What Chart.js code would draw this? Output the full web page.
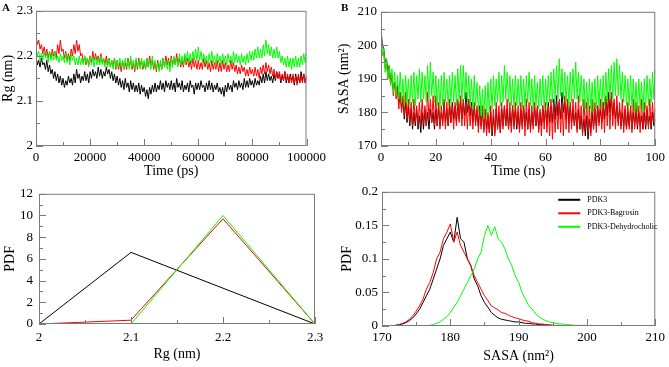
<!DOCTYPE html>
<html>
<head>
<meta charset="utf-8">
<script src="https://cdn.jsdelivr.net/npm/chart.js@4.4.0/dist/chart.umd.min.js"></script>
<style>
  body { margin: 0; background: #fff; }
  #wrap { position: relative; width: 669px; height: 367px; overflow: hidden; font-family: "Liberation Serif", serif; }
  canvas { position: absolute; }
  .tag { position: absolute; font-weight: bold; font-size: 11px; line-height: 11px; }
</style>
</head>
<body>
<div id="wrap">
  <canvas id="rgTime" width="330" height="180" style="left:0;top:0"></canvas>
  <canvas id="sasaTime" width="339" height="180" style="left:330px;top:0"></canvas>
  <canvas id="rgPdf" width="330" height="187" style="left:0;top:180px"></canvas>
  <canvas id="sasaPdf" width="339" height="187" style="left:330px;top:180px"></canvas>
  <div class="tag" style="left:2px;top:2px">A</div>
  <div class="tag" style="left:341px;top:2px">B</div>
</div>
<script>
const seriesNames = ["PDK3", "PDK3-Bagrosin", "PDK3-Dehydrocholic"];
const seriesColors = ["#000000", "#ff0000", "#00ff00"];

// Rg vs time, one value every 500 ps
const RG_STEP = 500;
const rgBlack = [
  2.2, 2.18, 2.19, 2.175, 2.195, 2.18, 2.185, 2.17, 2.19, 2.165, 2.18, 2.16, 2.17, 2.15, 2.165, 2.145, 2.16, 2.14, 2.155, 2.135,
  2.15, 2.13, 2.145, 2.135, 2.155, 2.14, 2.15, 2.135, 2.16, 2.14, 2.17, 2.15, 2.16, 2.14, 2.155, 2.145, 2.165, 2.145, 2.16, 2.14,
  2.165, 2.15, 2.17, 2.155, 2.165, 2.15, 2.175, 2.155, 2.17, 2.15, 2.165, 2.155, 2.175, 2.16, 2.17, 2.15, 2.165, 2.145, 2.16, 2.14,
  2.155, 2.135, 2.15, 2.13, 2.145, 2.125, 2.15, 2.13, 2.14, 2.12, 2.145, 2.125, 2.14, 2.12, 2.135, 2.12, 2.14, 2.115, 2.135, 2.12,
  2.13, 2.11, 2.125, 2.105, 2.13, 2.115, 2.135, 2.12, 2.14, 2.12, 2.135, 2.125, 2.145, 2.125, 2.14, 2.12, 2.145, 2.13, 2.14, 2.125,
  2.145, 2.125, 2.14, 2.12, 2.15, 2.13, 2.14, 2.125, 2.145, 2.12, 2.135, 2.125, 2.14, 2.12, 2.145, 2.13, 2.135, 2.115, 2.14, 2.125,
  2.14, 2.125, 2.145, 2.13, 2.135, 2.12, 2.14, 2.125, 2.145, 2.125, 2.14, 2.12, 2.135, 2.125, 2.14, 2.12, 2.13, 2.115, 2.13, 2.11,
  2.135, 2.12, 2.14, 2.125, 2.135, 2.12, 2.145, 2.13, 2.14, 2.125, 2.145, 2.13, 2.14, 2.125, 2.15, 2.13, 2.145, 2.13, 2.15, 2.135,
  2.145, 2.13, 2.15, 2.135, 2.145, 2.135, 2.155, 2.14, 2.16, 2.14, 2.165, 2.145, 2.16, 2.145, 2.155, 2.14, 2.16, 2.145, 2.165, 2.15,
  2.16, 2.14, 2.155, 2.145, 2.165, 2.14, 2.155, 2.14, 2.16, 2.145, 2.155, 2.135, 2.16, 2.14, 2.155, 2.14, 2.165, 2.145, 2.16, 2.14,
  2.155
];
const rgRed = [
  2.245, 2.225, 2.235, 2.215, 2.225, 2.205, 2.22, 2.2, 2.215, 2.195, 2.21, 2.195, 2.215, 2.2, 2.21, 2.195, 2.225, 2.205, 2.235, 2.21,
  2.215, 2.195, 2.21, 2.19, 2.205, 2.19, 2.215, 2.2, 2.225, 2.205, 2.235, 2.21, 2.225, 2.2, 2.205, 2.185, 2.2, 2.18, 2.195, 2.18,
  2.2, 2.185, 2.21, 2.19, 2.205, 2.19, 2.2, 2.185, 2.205, 2.185, 2.195, 2.18, 2.2, 2.18, 2.195, 2.175, 2.19, 2.175, 2.195, 2.17,
  2.19, 2.17, 2.185, 2.165, 2.19, 2.17, 2.185, 2.17, 2.195, 2.175, 2.19, 2.17, 2.185, 2.165, 2.19, 2.17, 2.195, 2.175, 2.19, 2.17,
  2.185, 2.17, 2.195, 2.175, 2.2, 2.18, 2.19, 2.17, 2.185, 2.165, 2.19, 2.17, 2.185, 2.17, 2.195, 2.175, 2.2, 2.18, 2.195, 2.175,
  2.2, 2.18, 2.195, 2.18, 2.205, 2.18, 2.195, 2.175, 2.19, 2.175, 2.2, 2.18, 2.195, 2.175, 2.19, 2.17, 2.195, 2.175, 2.19, 2.17,
  2.19, 2.17, 2.185, 2.17, 2.195, 2.175, 2.19, 2.17, 2.185, 2.165, 2.19, 2.17, 2.185, 2.17, 2.19, 2.165, 2.185, 2.165, 2.19, 2.17,
  2.185, 2.165, 2.18, 2.165, 2.19, 2.17, 2.185, 2.165, 2.18, 2.16, 2.175, 2.16, 2.18, 2.165, 2.175, 2.155, 2.17, 2.155, 2.175, 2.16,
  2.17, 2.155, 2.175, 2.155, 2.17, 2.15, 2.175, 2.16, 2.18, 2.16, 2.185, 2.165, 2.18, 2.16, 2.175, 2.155, 2.17, 2.15, 2.165, 2.15,
  2.165, 2.145, 2.16, 2.145, 2.165, 2.145, 2.16, 2.14, 2.155, 2.14, 2.16, 2.14, 2.155, 2.135, 2.16, 2.14, 2.155, 2.14, 2.16, 2.14,
  2.15
];
const rgGreen = [
  2.22, 2.2, 2.21, 2.19, 2.205, 2.19, 2.21, 2.195, 2.205, 2.185, 2.21, 2.19, 2.205, 2.19, 2.21, 2.19, 2.2, 2.185, 2.205, 2.19,
  2.2, 2.185, 2.205, 2.185, 2.2, 2.18, 2.205, 2.19, 2.2, 2.18, 2.195, 2.18, 2.2, 2.18, 2.195, 2.18, 2.2, 2.185, 2.195, 2.175,
  2.2, 2.18, 2.195, 2.175, 2.2, 2.18, 2.195, 2.18, 2.2, 2.18, 2.195, 2.175, 2.19, 2.175, 2.195, 2.175, 2.19, 2.17, 2.195, 2.175,
  2.19, 2.175, 2.195, 2.175, 2.19, 2.17, 2.195, 2.175, 2.19, 2.17, 2.2, 2.175, 2.19, 2.17, 2.195, 2.175, 2.19, 2.17, 2.195, 2.175,
  2.19, 2.17, 2.195, 2.175, 2.19, 2.17, 2.2, 2.175, 2.19, 2.17, 2.185, 2.165, 2.19, 2.17, 2.195, 2.175, 2.19, 2.17, 2.19, 2.165,
  2.195, 2.175, 2.2, 2.18, 2.195, 2.175, 2.205, 2.18, 2.2, 2.18, 2.205, 2.185, 2.21, 2.185, 2.205, 2.185, 2.21, 2.19, 2.215, 2.19,
  2.22, 2.19, 2.21, 2.185, 2.205, 2.185, 2.2, 2.18, 2.205, 2.185, 2.21, 2.185, 2.2, 2.18, 2.205, 2.185, 2.2, 2.18, 2.205, 2.185,
  2.2, 2.18, 2.205, 2.185, 2.2, 2.18, 2.21, 2.185, 2.205, 2.185, 2.2, 2.18, 2.205, 2.185, 2.2, 2.18, 2.205, 2.185, 2.21, 2.19,
  2.21, 2.19, 2.215, 2.195, 2.22, 2.195, 2.215, 2.195, 2.225, 2.2, 2.235, 2.205, 2.225, 2.2, 2.22, 2.195, 2.215, 2.195, 2.22, 2.195,
  2.21, 2.185, 2.2, 2.18, 2.195, 2.175, 2.2, 2.175, 2.195, 2.17, 2.195, 2.175, 2.2, 2.175, 2.195, 2.175, 2.2, 2.18, 2.205, 2.185,
  2.205
];

// SASA vs time, one value every 0.5 ns
const SASA_STEP = 0.5;
const sasaBlack = [
  205, 200, 199, 195, 196, 192, 194, 189, 191, 187, 189, 185, 188, 183, 186, 181, 184, 178, 183, 177,
  182, 176, 181, 175, 180, 176, 181, 175, 179, 174, 180, 175, 181, 176, 180, 175, 181, 177, 180, 175,
  181, 176, 182, 176, 180, 177, 183, 177, 181, 176, 182, 177, 183, 178, 182, 177, 183, 178, 184, 178,
  183, 179, 186, 180, 184, 179, 183, 177, 182, 177, 181, 176, 182, 176, 180, 175, 181, 175, 179, 174,
  180, 173, 179, 174, 181, 175, 180, 174, 181, 176, 182, 176, 181, 175, 180, 176, 182, 176, 181, 175,
  180, 175, 181, 176, 182, 176, 180, 175, 181, 175, 180, 176, 182, 176, 181, 175, 180, 176, 182, 177,
  181, 176, 183, 177, 182, 177, 184, 178, 185, 179, 183, 178, 186, 180, 184, 178, 183, 177, 182, 177,
  181, 176, 180, 175, 181, 175, 179, 174, 178, 173, 179, 172, 178, 174, 180, 175, 181, 176, 182, 177,
  181, 177, 183, 178, 184, 179, 186, 180, 185, 179, 183, 178, 182, 177, 181, 176, 180, 176, 181, 175,
  180, 176, 181, 175, 180, 176, 181, 175, 180, 176, 179, 175, 180, 175, 181, 176, 179, 175, 180, 176,
  178
];
const sasaRed = [
  201, 197, 198, 193, 195, 190, 193, 188, 191, 185, 189, 184, 187, 181, 186, 180, 185, 179, 186, 178,
  184, 177, 183, 176, 184, 177, 182, 176, 183, 176, 184, 177, 182, 176, 186, 178, 184, 177, 185, 176,
  185, 176, 183, 175, 182, 176, 184, 175, 183, 176, 184, 177, 182, 175, 183, 176, 184, 177, 185, 176,
  184, 176, 183, 175, 184, 176, 182, 175, 183, 176, 182, 174, 181, 175, 182, 174, 181, 173, 180, 174,
  182, 174, 181, 173, 183, 175, 182, 174, 183, 175, 182, 176, 184, 175, 183, 174, 182, 175, 183, 176,
  182, 174, 183, 175, 182, 173, 184, 175, 183, 174, 182, 175, 183, 176, 182, 174, 181, 173, 182, 175,
  183, 174, 182, 173, 184, 172, 183, 174, 182, 175, 184, 174, 183, 173, 185, 175, 184, 174, 183, 175,
  184, 176, 183, 174, 185, 175, 182, 173, 184, 175, 183, 174, 182, 173, 184, 175, 183, 174, 182, 176,
  184, 175, 183, 174, 185, 176, 184, 175, 186, 176, 184, 175, 185, 176, 183, 175, 184, 174, 182, 175,
  183, 175, 182, 174, 184, 175, 183, 176, 182, 174, 184, 175, 183, 176, 182, 175, 184, 176, 183, 177,
  181
];
const sasaGreen = [
  205, 197, 199, 192, 196, 190, 194, 188, 193, 186, 192, 185, 191, 184, 192, 183, 190, 182, 191, 183,
  190, 182, 191, 183, 192, 182, 191, 184, 193, 183, 192, 184, 191, 183, 194, 184, 195, 185, 192, 183,
  191, 182, 190, 181, 191, 182, 192, 183, 190, 182, 191, 183, 192, 183, 191, 182, 193, 184, 194, 183,
  194, 184, 192, 183, 191, 182, 190, 181, 191, 182, 189, 180, 188, 179, 187, 178, 188, 179, 189, 180,
  190, 181, 191, 182, 190, 183, 192, 182, 191, 183, 194, 184, 192, 183, 191, 182, 190, 181, 191, 182,
  190, 182, 191, 181, 190, 182, 191, 183, 192, 182, 190, 181, 191, 182, 189, 181, 190, 182, 191, 181,
  190, 182, 191, 183, 192, 183, 193, 184, 194, 184, 196, 185, 193, 184, 192, 183, 191, 182, 192, 183,
  193, 184, 195, 184, 192, 183, 191, 182, 190, 181, 189, 180, 190, 181, 189, 180, 190, 181, 191, 182,
  190, 181, 191, 182, 192, 183, 193, 184, 194, 184, 195, 185, 196, 185, 194, 184, 192, 183, 191, 182,
  190, 182, 191, 181, 190, 180, 189, 180, 190, 181, 189, 180, 190, 181, 191, 182, 190, 183, 192, 184,
  193
];

// Rg distribution
const rgBins = [2, 2.1, 2.2, 2.3];
const rgPdfBlack = [0, 6.6, 3.3, 0];
const rgPdfRed = [0, 0.35, 9.7, 0];
const rgPdfGreen = [0, 0, 10.0, 0];

// SASA distribution, bins from 171 to 206 every 0.5 nm2
const SASA_BIN0 = 171;
const SASA_BIN_STEP = 0.5;
const sasaPdfBlack = [
  0, 0, 0.001, 0.002, 0.003, 0.005, 0.008, 0.012, 0.018, 0.025,
  0.035, 0.045, 0.055, 0.07, 0.085, 0.1, 0.12, 0.13, 0.14, 0.125,
  0.162, 0.13, 0.125, 0.1, 0.09, 0.07, 0.06, 0.045, 0.035, 0.028,
  0.02, 0.016, 0.012, 0.01, 0.009, 0.008, 0.007, 0.006, 0.006, 0.005,
  0.004, 0.004, 0.003, 0.003, 0.002, 0.002, 0.002, 0.001, 0.001, 0,
  0, 0, 0, 0, 0, 0, 0, 0, 0, 0.001,
  0, 0, 0, 0, 0, 0, 0, 0, 0.001, 0, 0
];
const sasaPdfRed = [
  0, 0, 0.001, 0.002, 0.004, 0.006, 0.01, 0.015, 0.022, 0.03,
  0.04, 0.055, 0.065, 0.08, 0.1, 0.11, 0.13, 0.14, 0.152, 0.125,
  0.14, 0.12, 0.11, 0.1, 0.09, 0.075, 0.065, 0.055, 0.045, 0.038,
  0.03, 0.027, 0.024, 0.02, 0.019, 0.016, 0.014, 0.012, 0.011, 0.009,
  0.008, 0.007, 0.005, 0.004, 0.003, 0.003, 0.002, 0.002, 0.001, 0.001,
  0.001, 0, 0, 0, 0, 0, 0, 0, 0, 0,
  0, 0, 0, 0, 0, 0, 0, 0, 0, 0, 0
];
const sasaPdfGreen = [
  0, 0, 0, 0, 0, 0, 0, 0, 0, 0,
  0, 0, 0.001, 0.002, 0.004, 0.006, 0.01, 0.014, 0.02, 0.028,
  0.035, 0.045, 0.055, 0.065, 0.075, 0.085, 0.1, 0.11, 0.135, 0.15,
  0.135, 0.148, 0.13, 0.125, 0.115, 0.1, 0.09, 0.075, 0.065, 0.05,
  0.04, 0.03, 0.025, 0.018, 0.014, 0.01, 0.008, 0.006, 0.005, 0.004,
  0.003, 0.003, 0.002, 0.002, 0.001, 0.001, 0.001, 0.001, 0.001, 0,
  0, 0, 0, 0, 0, 0, 0, 0, 0, 0, 0
];

const tickFont = { family: "Liberation Serif", size: 13, weight: "normal" };
const titleFont = { family: "Liberation Serif", size: 14, weight: "normal" };
const fmt = (v) => String(+Number(v).toFixed(3));

// grace-style frame with inward major / minor ticks
const frameTicks = {
  id: "frameTicks",
  afterDraw(chart, args, opts) {
    const { ctx, chartArea: a, scales } = chart;
    ctx.save();
    ctx.strokeStyle = "#7a7a7a";
    ctx.lineWidth = 1;
    ctx.strokeRect(a.left + 0.5, a.top + 0.5, a.right - a.left - 1, a.bottom - a.top - 1);
    ctx.beginPath();
    const xs = scales.x, ys = scales.y;
    for (let i = 0, v = xs.min; v <= xs.max + 1e-9; i++, v = xs.min + i * opts.xMinor) {
      const px = Math.round(xs.getPixelForValue(v)) + 0.5;
      const len = i % 2 === 0 ? 7 : 4;
      ctx.moveTo(px, a.bottom);
      ctx.lineTo(px, a.bottom - len);
    }
    for (let i = 0, v = ys.min; v <= ys.max + 1e-9; i++, v = ys.min + i * opts.yMinor) {
      const py = Math.round(ys.getPixelForValue(v)) + 0.5;
      const len = i % 2 === 0 ? 7 : 4;
      ctx.moveTo(a.left, py);
      ctx.lineTo(a.left + len, py);
    }
    ctx.stroke();
    ctx.restore();
  }
};

const pdfLegend = {
  id: "pdfLegend",
  afterDraw(chart, args, opts) {
    if (!opts.show) return;
    const { ctx, chartArea: a } = chart;
    ctx.save();
    ctx.font = '8px "Liberation Serif"';
    ctx.textBaseline = "middle";
    ctx.fillStyle = "#000";
    chart.data.datasets.forEach((ds, k) => {
      const y = a.top + 8 + k * 13.5;
      ctx.strokeStyle = ds.borderColor;
      ctx.lineWidth = 2;
      ctx.beginPath();
      ctx.moveTo(a.right - 97, y);
      ctx.lineTo(a.right - 75, y);
      ctx.stroke();
      ctx.fillText(ds.label, a.right - 68, y);
    });
    ctx.restore();
  }
};

function buildChart(id, o) {
  const datasets = o.series.map((vals, k) => ({
    label: seriesNames[k],
    data: vals.map((v, i) => ({ x: o.xs ? o.xs[i] : o.x0 + i * o.dx, y: v })),
    borderColor: seriesColors[k],
    borderWidth: 1,
    pointRadius: 0,
    tension: 0,
    order: 2 - k,
  }));
  return new Chart(document.getElementById(id), {
    type: "line",
    data: { datasets },
    options: {
      responsive: false,
      animation: false,
      events: [],
      layout: { padding: o.pad },
      plugins: {
        legend: { display: false },
        tooltip: { enabled: false },
        frameTicks: { xMinor: o.xMinor, yMinor: o.yMinor },
        pdfLegend: { show: !!o.legend },
      },
      scales: {
        x: {
          type: "linear", min: o.xMin, max: o.xMax,
          grid: { display: false, drawTicks: false }, border: { display: false },
          ticks: { stepSize: o.xStep, callback: fmt, font: tickFont, color: "#000", padding: o.xTickPad, maxRotation: 0, autoSkip: false },
          title: { display: true, text: o.xTitle, font: titleFont, color: "#000", padding: { top: 0, bottom: o.xTitlePad } },
          afterFit: (s) => { s.height = o.xH; },
        },
        y: {
          type: "linear", min: o.yMin, max: o.yMax,
          grid: { display: false, drawTicks: false }, border: { display: false },
          ticks: { stepSize: o.yStep, callback: fmt, font: tickFont, color: "#000", padding: o.yTickPad, autoSkip: false },
          title: { display: true, text: o.yTitle, font: titleFont, color: "#000", padding: { top: o.yTitlePad, bottom: 0 } },
          afterFit: (s) => { s.width = o.yW; },
        },
      },
    },
    plugins: [frameTicks, pdfLegend],
  });
}

buildChart("rgTime", {
  series: [rgBlack, rgRed, rgGreen], x0: 0, dx: RG_STEP,
  xMin: 0, xMax: 100000, xStep: 20000, xMinor: 10000,
  yMin: 2, yMax: 2.3, yStep: 0.1, yMinor: 0.05,
  xTitle: "Time (ps)", yTitle: "Rg (nm)", xTitlePad: 0, yTitlePad: 0,
  xTickPad: 4, yTickPad: 3,
  pad: { top: 8, right: 17, left: 0, bottom: 0 }, xH: 34, yW: 36,
});

buildChart("sasaTime", {
  series: [sasaBlack, sasaRed, sasaGreen], x0: 0, dx: SASA_STEP,
  xMin: 0, xMax: 100, xStep: 20, xMinor: 10,
  yMin: 170, yMax: 210, yStep: 10, yMinor: 5,
  xTitle: "Time (ns)", yTitle: "SASA (nm²)", xTitlePad: 0, yTitlePad: 6,
  xTickPad: 4, yTickPad: 4,
  pad: { top: 7, right: 11, left: 0, bottom: 0 }, xH: 34, yW: 51,
});

buildChart("rgPdf", {
  series: [rgPdfBlack, rgPdfRed, rgPdfGreen], xs: rgBins,
  xMin: 2, xMax: 2.3, xStep: 0.1, xMinor: 0.05,
  yMin: 0, yMax: 12, yStep: 2, yMinor: 1,
  xTitle: "Rg (nm)", yTitle: "PDF", xTitlePad: 4, yTitlePad: 2,
  xTickPad: 6, yTickPad: 6,
  pad: { top: 7, right: 15, left: 0, bottom: 0 }, xH: 43, yW: 39,
});

buildChart("sasaPdf", {
  series: [sasaPdfBlack, sasaPdfRed, sasaPdfGreen], x0: SASA_BIN0, dx: SASA_BIN_STEP,
  xMin: 170, xMax: 210, xStep: 10, xMinor: 5,
  yMin: 0, yMax: 0.2, yStep: 0.05, yMinor: 0.025,
  xTitle: "SASA (nm²)", yTitle: "PDF", xTitlePad: 2, yTitlePad: 9,
  xTickPad: 4, yTickPad: 4,
  pad: { top: 7, right: 9, left: 0, bottom: 0 }, xH: 41, yW: 52, legend: true,
});
</script>
</body>
</html>
